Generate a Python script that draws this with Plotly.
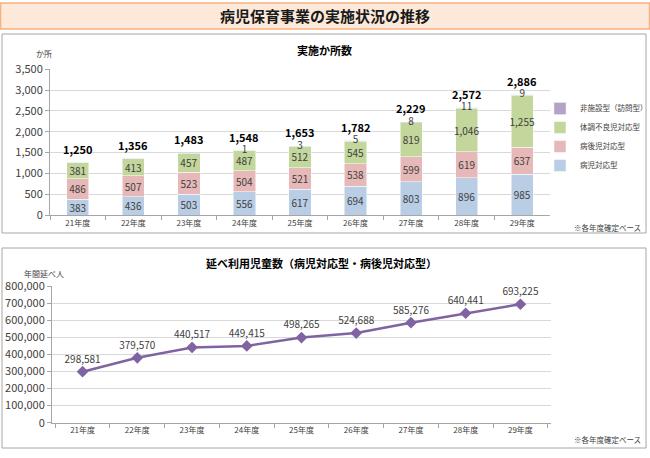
import plotly.graph_objects as go

years = ["21年度", "22年度", "23年度", "24年度", "25年度", "26年度", "27年度", "28年度", "29年度"]
byouji = [383, 436, 503, 556, 617, 694, 803, 896, 985]
byougo = [486, 507, 523, 504, 521, 538, 599, 619, 637]
taichou = [381, 413, 457, 487, 512, 545, 819, 1046, 1255]
houmon = [0, 0, 0, 1, 3, 5, 8, 11, 9]
users = [298581, 379570, 440517, 449415, 498265, 524688, 585276, 640441, 693225]

W, H = 650, 458
FONT = "Noto Sans CJK JP"
def px(x): return x / W
def py(y): return 1 - y / H

totals = [a + b + c + d for a, b, c, d in zip(byouji, byougo, taichou, houmon)]

fig = go.Figure()

series = [
    ("病児対応型", byouji, "#b9cde5"),
    ("病後児対応型", byougo, "#e6b9b8"),
    ("体調不良児対応型", taichou, "#c3d69b"),
]
for name, vals, col in series:
    fig.add_trace(go.Bar(
        x=years, y=vals, name=name, marker=dict(color=col, line=dict(color="white", width=0.5)),
        text=[f"{v:,}" for v in vals], textposition="inside", insidetextanchor="middle",
        textangle=0, constraintext="none",
        textfont=dict(size=10, color="#404040", family=FONT),
        xaxis="x", yaxis="y", width=0.4))
fig.add_trace(go.Bar(
    x=years, y=houmon, name="非施設型（訪問型）", marker=dict(color="#b3a2c7"),
    textposition="none", xaxis="x", yaxis="y", width=0.4))

# 非施設型 labels at bar top
fig.add_trace(go.Scatter(
    x=[y for y, h in zip(years, houmon) if h > 0],
    y=[t for t, h in zip(totals, houmon) if h > 0],
    text=[str(h) for h in houmon if h > 0], mode="text", textposition="middle center",
    textfont=dict(size=10, color="#404040", family=FONT), showlegend=False,
    xaxis="x", yaxis="y", hoverinfo="skip"))

# line chart
fig.add_trace(go.Scatter(
    x=years, y=users, mode="lines+markers+text", text=[f"{u:,}" for u in users],
    textposition="top center", textfont=dict(size=10, color="#404040", family=FONT),
    line=dict(color="#8064a2", width=2.5), marker=dict(symbol="diamond", size=9, color="#8064a2"),
    showlegend=False, xaxis="x2", yaxis="y2"))

axis_common = dict(showline=True, linecolor="#a6a6a6", linewidth=1, automargin=False)
fig.update_layout(
    width=W, height=H, margin=dict(l=0, r=0, t=0, b=0, autoexpand=False),
    paper_bgcolor="white", plot_bgcolor="white",
    font=dict(family=FONT, color="#404040"),
    barmode="stack", bargap=0.6,
    uniformtext=dict(minsize=10, mode="show"),
    xaxis=dict(domain=[px(50), px(550)], anchor="y", type="category", ticks="outside",
               tickson="boundaries", ticklen=4, tickcolor="#a6a6a6",
               tickfont=dict(size=8, color="#404040"), **axis_common),
    yaxis=dict(domain=[py(215), py(69.3)], anchor="x", range=[0, 3500], dtick=500,
               tickformat=",", showgrid=True, gridcolor="#d9d9d9", ticks="outside",
               ticklen=4, tickcolor="#a6a6a6",
               tickfont=dict(size=11, color="#404040"), **axis_common),
    xaxis2=dict(domain=[px(52), px(551)], anchor="y2", type="category", ticks="outside",
                tickson="boundaries", ticklen=4, tickcolor="#a6a6a6",
                tickfont=dict(size=8, color="#404040"), **axis_common),
    yaxis2=dict(domain=[py(422.7), py(286)], anchor="x2", range=[0, 800000], dtick=100000,
                tickformat=",", showgrid=True, gridcolor="#d9d9d9", ticks="outside",
                ticklen=4, tickcolor="#a6a6a6",
                tickfont=dict(size=11, color="#404040"), **axis_common),
    legend=dict(x=px(540), y=py(94), xanchor="left", yanchor="top", traceorder="reversed",
                font=dict(size=7.5, color="#404040"), itemwidth=30, bgcolor="rgba(0,0,0,0)"),
)

shapes = [
    dict(type="rect", xref="paper", yref="paper", x0=px(0.5), x1=px(649.5), y0=py(29), y1=py(3),
         fillcolor="#fde9d9", line=dict(color="#f4b183", width=1.5), layer="below"),
    dict(type="rect", xref="paper", yref="paper", x0=px(2), x1=px(646), y0=py(233), y1=py(34),
         fillcolor="rgba(0,0,0,0)", line=dict(color="#a6a6a6", width=1)),
    dict(type="rect", xref="paper", yref="paper", x0=px(2), x1=px(646), y0=py(448), y1=py(248),
         fillcolor="rgba(0,0,0,0)", line=dict(color="#a6a6a6", width=1)),
]
fig.update_layout(shapes=shapes)

ann = [
    dict(text="<b>病児保育事業の実施状況の推移</b>", x=px(325), y=py(16), size=15, color="#1a1a1a"),
    dict(text="<b>実施か所数</b>", x=px(324), y=py(50), size=11, color="#000000"),
    dict(text="か所", x=px(44), y=py(53), size=8, color="#404040"),
    dict(text="※各年度確定ベース", x=px(607), y=py(227), size=7.5, color="#404040"),
    dict(text="<b>延べ利用児童数（病児対応型・病後児対応型）</b>", x=px(321), y=py(263), size=11, color="#000000"),
    dict(text="年間延べ人", x=px(44), y=py(273), size=8, color="#404040"),
    dict(text="※各年度確定ベース", x=px(607), y=py(439), size=7.5, color="#404040"),
]
annotations = [
    dict(text=a["text"], x=a["x"], y=a["y"], xref="paper", yref="paper", showarrow=False,
         xanchor="center", yanchor="middle", font=dict(size=a["size"], color=a["color"], family=FONT))
    for a in ann
]
# totals above stacked bars
for yr, t in zip(years, totals):
    annotations.append(dict(text=f"<b>{t:,}</b>", x=yr, y=t, xref="x", yref="y", showarrow=False,
                            xanchor="center", yanchor="middle", yshift=14,
                            font=dict(size=11, color="#000000", family=FONT)))
fig.update_layout(annotations=annotations)

fig.write_html("out.html", config={"displayModeBar": False},
               post_script="document.body.style.margin='0';document.body.style.overflow='hidden';")
